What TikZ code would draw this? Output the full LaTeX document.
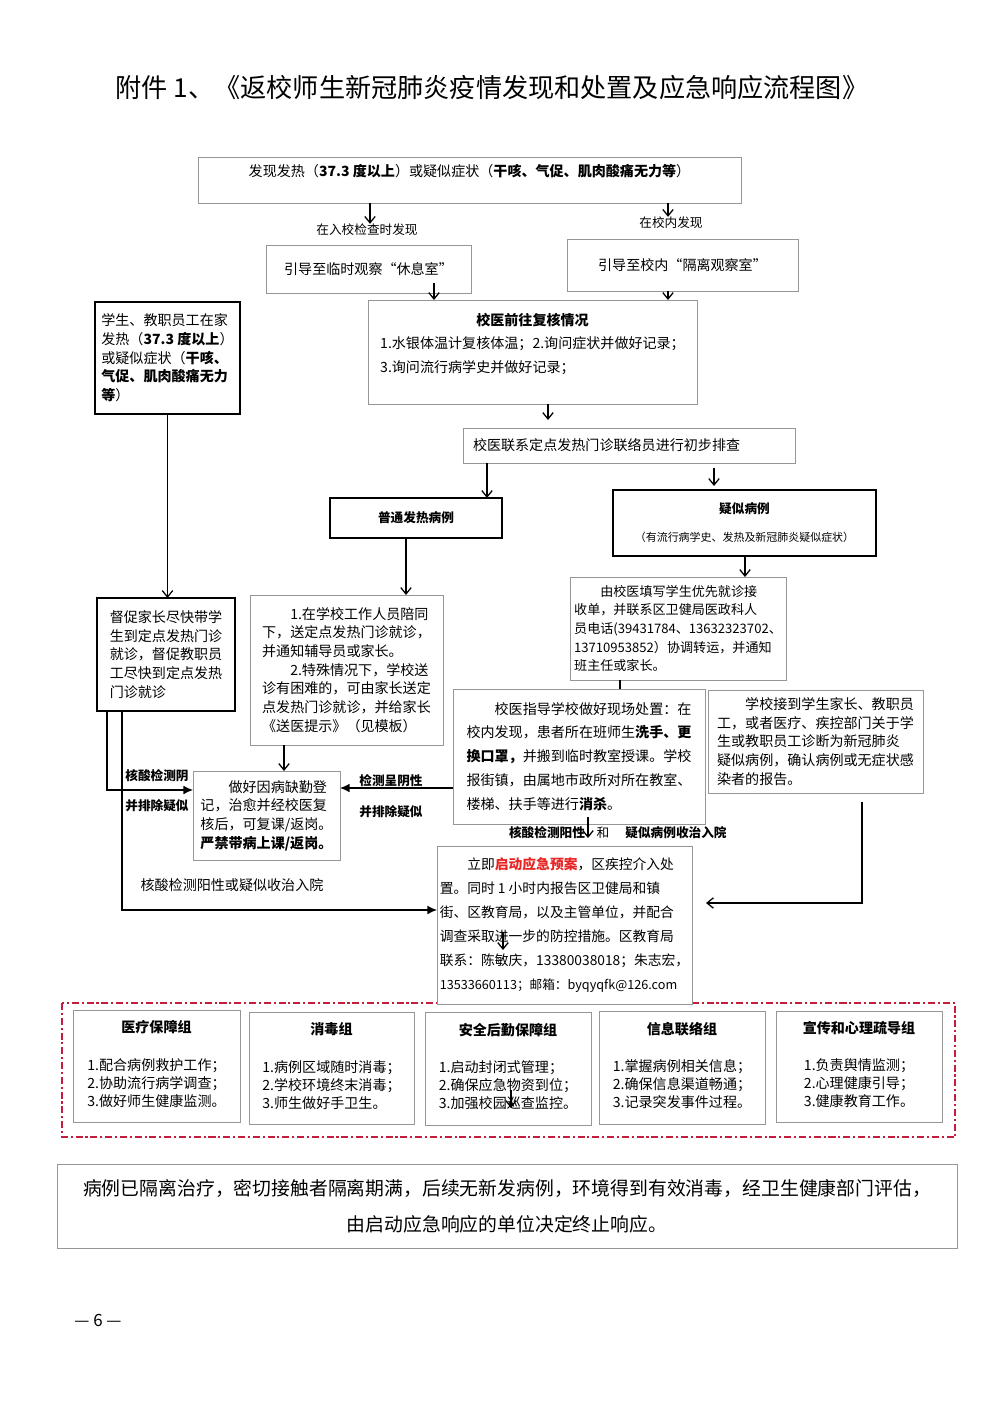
\documentclass[tikz,border=0pt]{standalone}
\usepackage{fontspec}
\setmainfont{Noto Sans CJK SC}
\usepackage{tikz}
\usetikzlibrary{arrows.meta}
\definecolor{boxgray}{RGB}{150,150,150}
\definecolor{framered}{RGB}{196,28,60}
\definecolor{alertred}{RGB}{232,36,36}
\tikzset{
    box/.style={draw=boxgray, line width=0.7pt, inner sep=0pt, outer sep=0pt, align=left},
    heavybox/.style={box, draw=black, line width=1.2pt},
    sz/.style 2 args={minimum width=#1*0.25mm, minimum height=#2*0.25mm},
    body/.style={font=\fontsize{10pt}{13.3pt}\selectfont},
    wide/.style={font=\fontsize{10pt}{17pt}\selectfont},
    grp/.style={font=\fontsize{10pt}{12.8pt}\selectfont, align=center},
    tag/.style={font=\fontsize{9pt}{11pt}\selectfont, inner sep=0pt},
    boldtag/.style={tag, font=\fontsize{9pt}{11pt}\selectfont\bfseries},
    flow/.style={line width=0.9pt, -{Straight Barb[length=1.6mm, width=2.6mm]}},
    push/.style={line width=0.9pt, -{Latex[length=2.4mm, width=2.2mm]}}
}

\begin{document}
\begin{tikzpicture}[x=0.25mm, y=-0.25mm]
        \useasboundingbox (0,0) rectangle (999,1415);

        % Draw title
        \node[font=\fontsize{18.6pt}{20pt}\selectfont] (title) at (492,88)
            {附件 1、《返校师生新冠肺炎疫情发现和处置及应急响应流程图》};

        % Draw discovery box and first split
        \node[box, sz={543}{46}, body, align=center] (find) at (469.5,180)
            {发现发热（\textbf{37.3 度以上}）或疑似症状（\textbf{干咳、气促、肌肉酸痛无力等}）\\ \mbox{}};
        \node[tag] (gate) at (367,230) {在入校检查时发现};
        \node[tag] (campus) at (671,223) {在校内发现};
        \draw[flow] (find.south -| 370,0) -- (gate.north -| 370,0);
        \draw[flow] (find.south -| 668,0) -- (campus.north -| 668,0);

        % Draw observation rooms
        \node[box, sz={205}{48}, body] (rest) at (368.5,269) {引导至临时观察“休息室”};
        \node[box, sz={231}{52}, body] (isolate) at (682.5,265) {引导至校内“隔离观察室”};

        % Draw doctor check
        \node[box, sz={329}{104}, font=\fontsize{10pt}{17pt}\selectfont, align=center] (check) at (532.5,352)
            {\textbf{校医前往复核情况}\\
             \begin{tabular}[t]{@{}l@{}}1.水银体温计复核体温；2.询问症状并做好记录；\\3.询问流行病学史并做好记录；\\[8pt]\end{tabular}};
        \draw[flow, shorten <=-2.5mm] (rest.south -| 434,0) -- (check.north -| 434,0);
        \draw[flow] (isolate.south -| 668,0) -- (check.north -| 668,0);

        % Draw home case
        \node[heavybox, sz={145}{112}, body] (home) at (167.5,358)
            {学生、教职员工在家\\发热（\textbf{37.3 度以上}）\\或疑似症状（\textbf{干咳、}\\\textbf{气促、肌肉酸痛无力}\\\textbf{等}）};

        % Draw screening
        \node[box, sz={332}{35}, body, text width=78mm] (screen) at (629,445.5)
            {校医联系定点发热门诊联络员进行初步排查};
        \draw[flow, shorten >=2mm] (check.south -| 548,0) -- (screen.north -| 548,0);

        % Draw the two kinds of case
        \node[heavybox, sz={172}{40}, boldtag] (common) at (416,518) {普通发热病例};
        \node[heavybox, sz={263}{66}, boldtag, align=center] (suspect) at (744.5,523)
            {疑似病例\\[9pt]{\mdseries\fontsize{7.8pt}{8pt}\selectfont（有流行病学史、发热及新冠肺炎疑似症状）}};
        \draw[flow] (screen.south -| 487,0) -- (common.north -| 487,0);
        \draw[flow, shorten <=1.2mm, shorten >=1mm] (screen.south -| 714,0) -- (suspect.north -| 714,0);

        % Draw clinic steps
        \node[heavybox, sz={138}{113}, body] (urge) at (166,654.5)
            {督促家长尽快带学\\生到定点发热门诊\\就诊，督促教职员\\工尽快到定点发热\\门诊就诊};
        \node[box, sz={193}{150}, body] (escort) at (346.5,670)
            {\hspace*{2em}1.在学校工作人员陪同\\下，送定点发热门诊就诊，\\并通知辅导员或家长。\\\hspace*{2em}2.特殊情况下，学校送\\诊有困难的，可由家长送定\\点发热门诊就诊，并给家长\\《送医提示》（见模板）};
        \node[box, sz={216}{103}, font=\fontsize{9.3pt}{13.3pt}\selectfont] (transfer) at (678,628.5)
            {\hspace*{2em}由校医填写学生优先就诊接\\收单，并联系区卫健局医政科人\\员电话(39431784、13632323702、\\13710953852）协调转运，并通知\\班主任或家长。};
        \draw[flow] (home.south) -- (home.south |- urge.north);
        \draw[flow] (common.south -| 406,0) -- (escort.north -| 406,0);
        \draw[flow] (suspect.south -| 745,0) -- (transfer.north -| 745,0);

        % Draw on-site handling and reports
        \node[box, sz={252}{135}, wide] (site) at (579,756.5)
            {\hspace*{2em}校医指导学校做好现场处置：在\\校内发现，患者所在班师生\textbf{洗手、更}\\\textbf{换口罩，}并搬到临时教室授课。学校\\报街镇，由属地市政所对所在教室、\\楼梯、扶手等进行\textbf{消杀}。};
        \node[box, sz={215}{103}, body] (report) at (815.5,741.5)
            {\hspace*{2em}学校接到学生家长、教职员\\工，或者医疗、疾控部门关于学\\生或教职员工诊断为新冠肺炎\\疑似病例，确认病例或无症状感\\染者的报告。};
        \draw[line width=0.9pt] (transfer.south -| 620,0) -- (site.north -| 620,0);

        % Draw return to class
        \node[box, sz={147}{89}, body] (back) at (266.5,815.5)
            {\hspace*{2em}做好因病缺勤登\\记，治愈并经校医复\\核后，可复课/返岗。\\\textbf{严禁带病上课/返岗。}};
        \draw[flow] (escort.south -| 284,0) -- (back.north -| 284,0);
        \draw[push] (site.west |- 0,788) -- (back.east |- 0,788);
        \node[boldtag] (negtop) at (391,781) {检测呈阴性};
        \node[boldtag] (negbot) at (391,812) {并排除疑似};
        \draw[push] (urge.south -| 107,0) |- (back.west |- 0,790);
        \node[boldtag] (lefttop) at (157,776) {核酸检测阴};
        \node[boldtag] (leftbot) at (157,806) {并排除疑似};

        % Draw response frame
        \draw[framered, line width=1pt, dash pattern=on 5pt off 2pt on 1.5pt off 2pt] (62,1003) rectangle (955,1137);

        % Draw emergency plan
        \node[box, sz={255}{158}, fill=white, font=\fontsize{9.8pt}{17pt}\selectfont] (plan) at (564.5,925)
            {\hspace*{2em}立即\textcolor{alertred}{\textbf{启动应急预案}}，区疾控介入处\\置。同时 1 小时内报告区卫健局和镇\\街、区教育局，以及主管单位，并配合\\调查采取进一步的防控措施。区教育局\\联系：陈敏庆，13380038018；朱志宏，\\{\fontsize{9pt}{17pt}\selectfont 13533660113；邮箱：byqyqfk@126.com}};
        \coordinate (sitepos) at (588,838);
        \draw[flow, shorten <=-1.8mm] (site.south -| sitepos) -- (sitepos);
        \node[boldtag] (pos) at (547,833) {核酸检测阳性};
        \node[tag] (and) at (603,833) {和};
        \node[boldtag] (admit) at (676,833) {疑似病例收治入院};
        \draw[push] (urge.south -| 122,0) |- (plan.west |- 0,910);
        \node[font=\fontsize{10pt}{12pt}\selectfont] (admitall) at (232,885) {核酸检测阳性或疑似收治入院};
        \draw[flow, shorten <=2.2mm, shorten >=3.5mm] (report.south -| 862,0) |- (plan.east |- 0,903);
        \coordinate (planin) at (503,932);
        \draw[flow] (planin) -- ++(0,18);

        % Draw working groups
        \node[box, sz={167}{112}, grp] (medic) at (156.5,1066)
            {\textbf{医疗保障组}\\[14pt]\begin{tabular}[t]{@{}l@{}}1.配合病例救护工作；\\2.协助流行病学调查；\\3.做好师生健康监测。\end{tabular}};
        \node[box, sz={165}{112}, grp] (disinfect) at (331.5,1068)
            {\textbf{消毒组}\\[14pt]\begin{tabular}[t]{@{}l@{}}1.病例区域随时消毒；\\2.学校环境终末消毒；\\3.师生做好手卫生。\end{tabular}};
        \node[box, sz={166}{113}, grp] (logistics) at (508,1068.5)
            {\textbf{安全后勤保障组}\\[14pt]\begin{tabular}[t]{@{}l@{}}1.启动封闭式管理；\\2.确保应急物资到位；\\3.加强校园巡查监控。\end{tabular}};
        \node[box, sz={166}{113}, grp] (contact) at (682,1067.5)
            {\textbf{信息联络组}\\[14pt]\begin{tabular}[t]{@{}l@{}}1.掌握病例相关信息；\\2.确保信息渠道畅通；\\3.记录突发事件过程。\end{tabular}};
        \node[box, sz={166}{111}, grp] (publicity) at (859,1066.5)
            {\textbf{宣传和心理疏导组}\\[14pt]\begin{tabular}[t]{@{}l@{}}1.负责舆情监测；\\2.心理健康引导；\\3.健康教育工作。\end{tabular}};
        \coordinate (grpin) at (511,1090);
        \draw[flow] (grpin) -- ++(0,18);

        % Draw end of response
        \node[box, sz={900}{84}, align=center, font=\fontsize{13.4pt}{25.5pt}\selectfont] (stop) at (507,1206)
            {病例已隔离治疗，密切接触者隔离期满，后续无新发病例，环境得到有效消毒，经卫生健康部门评估，\\由启动应急响应的单位决定终止响应。};

        % Page number
        \node[font=\fontsize{12pt}{14pt}\selectfont] (page) at (98,1320) {— 6 —};
    \end{tikzpicture}
\end{document}
